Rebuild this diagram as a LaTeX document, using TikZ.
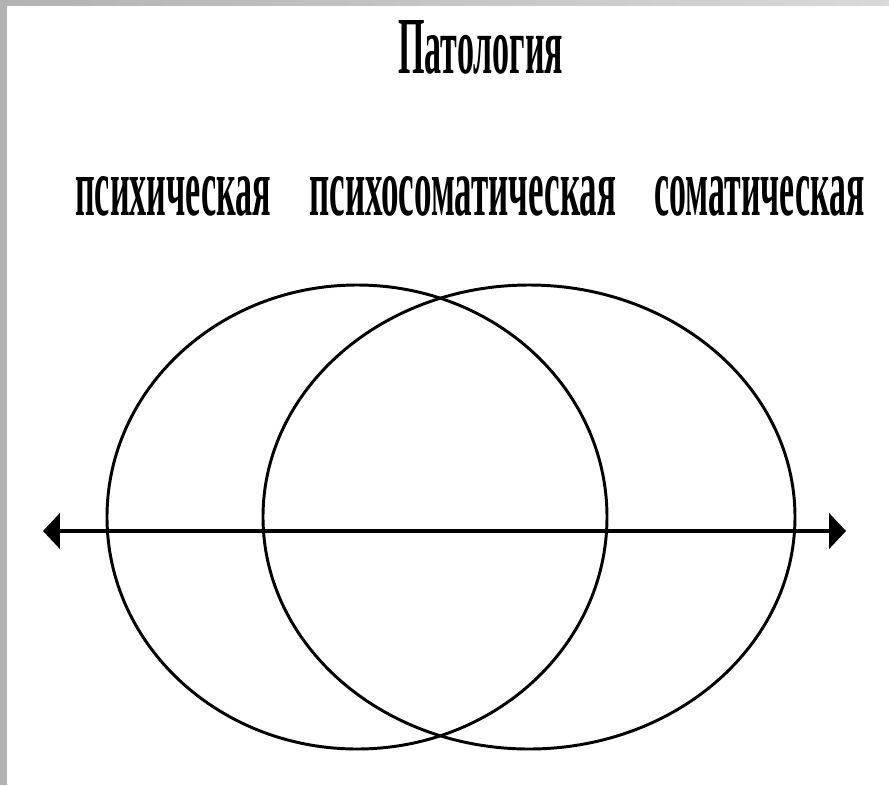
\documentclass[tikz,border=0pt]{standalone}
\usepackage{fontspec}
\setmainfont{Liberation Serif}
\usetikzlibrary{arrows.meta}
\newlength{\unitpx}
\setlength{\unitpx}{0.025cm}
\newcommand{\squeeze}[3]{\resizebox{#1\unitpx}{#2\unitpx}{\bfseries #3}}
\tikzset{
  word/.style={anchor=south west, inner sep=0pt},
  oval/.style={line width=2.1pt},
  axis/.style={line width=2.5pt, {Triangle[length=12pt,width=25pt]}-{Triangle[length=12pt,width=25pt]}}
}

\begin{document}
\begin{tikzpicture}[x=0.025cm, y=-0.025cm]
    \useasboundingbox (0,0) rectangle (889,785);
    % Draw frame
    \shade[left color=gray!60, right color=gray!30] (0,0) rectangle (889,5);
    \fill[gray!60] (0,0) rectangle (7,785);

    % Draw labels
    \node[word] (title) at (398,75) {\squeeze{165}{53}{Патология}};
    \node[word] (psych) at (75,217) {\squeeze{196}{39}{психическая}};
    \node[word] (psom) at (309,217) {\squeeze{307}{39}{психосоматическая}};
    \node[word] (soma) at (654,217) {\squeeze{210}{39}{соматическая}};

    % Draw ellipses
    \coordinate (lc) at (357,517);
    \coordinate (rc) at (529,517);
    \draw[oval] (lc) ellipse [x radius=250, y radius=232];
    \draw[oval] (rc) ellipse [x radius=266, y radius=232];

    % Draw axis
    \coordinate (west) at (43,531);
    \coordinate (east) at (846,531);
    \draw[axis] (west) -- (east);
\end{tikzpicture}
\end{document}
